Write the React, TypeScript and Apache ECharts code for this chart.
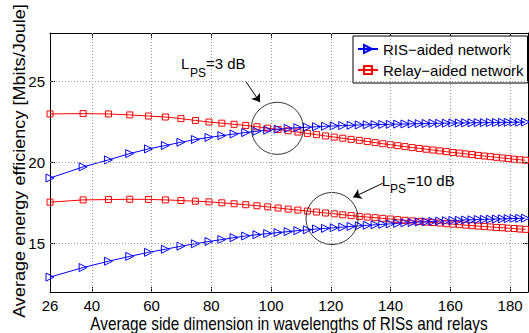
import { useEffect, useRef } from 'react';
import * as echarts from 'echarts';

const xValues = [
  26.0, 37.09, 45.56, 52.69, 58.96, 64.62, 69.83, 74.67, 79.22, 83.52,
  87.61, 91.52, 95.27, 98.87, 102.35, 105.72, 108.98, 112.14, 115.22, 118.22,
  121.14, 124.0, 126.79, 129.52, 132.2, 134.82, 137.39, 139.91, 142.39, 144.83,
  147.23, 149.59, 151.91, 154.19, 156.45, 158.67, 160.86, 163.02, 165.15, 167.26,
  169.34, 171.39, 173.42, 175.43, 177.42, 179.38, 181.32, 183.24, 185.14,
];

const ris3dB = [
  19.04, 19.73, 20.16, 20.55, 20.84, 21.05, 21.25, 21.42, 21.55, 21.66,
  21.76, 21.85, 21.93, 22.0, 22.06, 22.11, 22.15, 22.18, 22.21, 22.24,
  22.26, 22.28, 22.3, 22.32, 22.33, 22.34, 22.35, 22.36, 22.37, 22.38,
  22.39, 22.4, 22.41, 22.42, 22.42, 22.43, 22.44, 22.44, 22.45, 22.45,
  22.46, 22.46, 22.47, 22.47, 22.48, 22.48, 22.49, 22.49, 22.5,
];

const relay3dB = [
  23.0, 23.02, 23.0, 22.94, 22.87, 22.81, 22.71, 22.6, 22.5, 22.43,
  22.36, 22.29, 22.21, 22.12, 22.04, 21.96, 21.88, 21.8, 21.72, 21.64,
  21.57, 21.5, 21.43, 21.37, 21.3, 21.23, 21.16, 21.1, 21.04, 20.98,
  20.92, 20.87, 20.82, 20.77, 20.72, 20.67, 20.62, 20.58, 20.53, 20.49,
  20.44, 20.4, 20.36, 20.32, 20.28, 20.24, 20.2, 20.17, 20.14,
];

const ris10dB = [
  12.92, 13.51, 13.9, 14.2, 14.45, 14.64, 14.83, 14.98, 15.12, 15.24,
  15.36, 15.46, 15.54, 15.61, 15.67, 15.73, 15.79, 15.84, 15.89, 15.93,
  15.97, 16.01, 16.05, 16.09, 16.12, 16.15, 16.18, 16.21, 16.24, 16.27,
  16.29, 16.32, 16.34, 16.36, 16.38, 16.4, 16.42, 16.43, 16.45, 16.46,
  16.48, 16.49, 16.5, 16.51, 16.52, 16.53, 16.54, 16.55, 16.56,
];

const relay10dB = [
  17.55, 17.69, 17.71, 17.73, 17.72, 17.69, 17.65, 17.61, 17.57, 17.51,
  17.45, 17.39, 17.33, 17.26, 17.19, 17.12, 17.06, 17.0, 16.94, 16.88,
  16.83, 16.77, 16.72, 16.67, 16.63, 16.59, 16.55, 16.51, 16.47, 16.43,
  16.39, 16.36, 16.32, 16.29, 16.26, 16.22, 16.19, 16.16, 16.13, 16.1,
  16.07, 16.05, 16.02, 15.99, 15.97, 15.94, 15.92, 15.89, 15.87,
];

const xTicks = [26, 40, 60, 80, 100, 120, 140, 160, 180];
const yTicks = [15, 20, 25];
const gridX = [40, 60, 80, 100, 120, 140, 160, 180];
const gridY = [15, 20, 25];

const circleCenters = [
  [102.1, 22.11],
  [120.4, 16.54],
];
const arrows = [
  [[91.6, 24.99], [96.3, 23.72]],
  [[137.4, 18.72], [127.5, 17.85]],
];

const RIS_NAME = 'RIS\u2212aided network';
const RELAY_NAME = 'Relay\u2212aided network';
const FONT = 'Liberation Sans';
const BLUE = '#0000ff';
const RED = '#ff0000';
const TRI = 'path://M0,0L10,5L0,10Z';

const zip = (ys: number[]) => xValues.map((x, i) => [x, ys[i]]);

export default function App() {
  const ref = useRef<HTMLDivElement>(null);
  useEffect(() => {
    document.body.style.margin = '0';
    const chart = echarts.init(ref.current!, null, { renderer: 'svg' });

    const risSeries = (data: number[]) => ({
      type: 'line',
      name: RIS_NAME,
      data: zip(data),
      symbol: TRI,
      symbolSize: 8,
      showAllSymbol: true,
      lineStyle: { color: BLUE, width: 1 },
      itemStyle: { color: 'rgba(0,0,0,0)', borderColor: BLUE, borderWidth: 1 },
      emphasis: { disabled: true },
      z: 3,
    });
    const relaySeries = (data: number[]) => ({
      type: 'line',
      name: RELAY_NAME,
      data: zip(data),
      symbol: 'rect',
      symbolSize: 6,
      showAllSymbol: true,
      lineStyle: { color: RED, width: 1 },
      itemStyle: { color: 'rgba(0,0,0,0)', borderColor: RED, borderWidth: 1 },
      emphasis: { disabled: true },
      z: 3,
    });

    const axisCommon = {
      type: 'value',
      axisLine: { show: true, onZero: false, lineStyle: { color: '#000', width: 1 } },
      splitLine: { show: false },
    };

    const option: any = {
      animation: false,
      grid: { left: 50, right: 1, top: 33, bottom: 41, containLabel: false },
      xAxis: [
        {
          ...axisCommon,
          min: 26,
          max: 186,
          position: 'bottom',
          axisTick: { show: true, inside: true, length: 5, customValues: xTicks, lineStyle: { color: '#000' } },
          axisLabel: { customValues: xTicks, color: '#000', fontSize: 15, fontFamily: FONT, margin: 6 },
        },
        {
          ...axisCommon,
          min: 26,
          max: 186,
          position: 'top',
          axisTick: { show: true, inside: true, length: 5, customValues: xTicks, lineStyle: { color: '#000' } },
          axisLabel: { show: false },
        },
      ],
      yAxis: [
        {
          ...axisCommon,
          min: 12,
          max: 28,
          position: 'left',
          axisTick: { show: true, inside: true, length: 5, customValues: yTicks, lineStyle: { color: '#000' } },
          axisLabel: { customValues: yTicks, color: '#000', fontSize: 15, fontFamily: FONT, margin: 5 },
        },
        {
          ...axisCommon,
          min: 12,
          max: 28,
          position: 'right',
          axisTick: { show: true, inside: true, length: 5, customValues: yTicks, lineStyle: { color: '#000' } },
          axisLabel: { show: false },
        },
      ],
      legend: {
        data: [RIS_NAME, RELAY_NAME],
        orient: 'vertical',
        left: 353,
        top: 36,
        padding: [4.5, 4, 4.5, 4],
        itemGap: 4,
        itemWidth: 20,
        itemHeight: 10,
        backgroundColor: '#fff',
        borderColor: '#000',
        borderWidth: 1,
        borderRadius: 0,
        selectedMode: false,
        textStyle: { color: '#000', fontSize: 15, fontFamily: FONT, lineHeight: 17 },
      },
      series: [
        {
          type: 'line',
          name: 'grid',
          data: [[26, 12]],
          symbol: 'none',
          silent: true,
          z: 1,
          markLine: {
            silent: true,
            symbol: 'none',
            label: { show: false },
            emphasis: { disabled: true },
            lineStyle: { color: '#9a9a9a', type: [1, 2], width: 1 },
            data: [...gridX.map((v) => ({ xAxis: v })), ...gridY.map((v) => ({ yAxis: v }))],
          },
        },
        relaySeries(relay3dB),
        risSeries(ris3dB),
        relaySeries(relay10dB),
        risSeries(ris10dB),
        {
          type: 'scatter',
          name: 'circles',
          data: circleCenters,
          symbol: 'circle',
          symbolSize: 52,
          silent: true,
          itemStyle: { color: 'rgba(0,0,0,0)', borderColor: '#000', borderWidth: 1 },
          emphasis: { disabled: true },
          z: 4,
          markLine: {
            silent: true,
            symbol: ['none', 'arrow'],
            symbolSize: 8,
            label: { show: false },
            emphasis: { disabled: true },
            lineStyle: { color: '#000', type: 'solid', width: 1 },
            data: arrows.map((a) => [{ coord: a[0] }, { coord: a[1] }]),
          },
        },
      ],
      graphic: [
        {
          type: 'text',
          x: 20,
          y: 161,
          rotation: Math.PI / 2,
          scaleX: 1.13,
          style: {
            text: 'Average energy efficiency [Mbits/Joule]',
            fontFamily: FONT,
            fontSize: 16,
            fill: '#000',
            align: 'center',
            verticalAlign: 'middle',
          },
        },
        {
          type: 'text',
          x: 289,
          y: 323.5,
          scaleY: 1.15,
          style: {
            text: 'Average side dimension in wavelengths of RISs and relays',
            fontFamily: FONT,
            fontSize: 15.3,
            fill: '#000',
            align: 'center',
            verticalAlign: 'middle',
          },
        },
        { type: 'text', x: 181, y: 63.3, style: { text: 'L', fontFamily: FONT, fontSize: 15, fill: '#000', align: 'left', verticalAlign: 'middle' } },
        { type: 'text', x: 190, y: 72.5, style: { text: 'PS', fontFamily: FONT, fontSize: 12, fill: '#000', align: 'left', verticalAlign: 'middle' } },
        { type: 'text', x: 206, y: 63.3, style: { text: '=3 dB', fontFamily: FONT, fontSize: 15, fill: '#000', align: 'left', verticalAlign: 'middle' } },
        { type: 'text', x: 381.7, y: 180, style: { text: 'L', fontFamily: FONT, fontSize: 15, fill: '#000', align: 'left', verticalAlign: 'middle' } },
        { type: 'text', x: 390, y: 189, style: { text: 'PS', fontFamily: FONT, fontSize: 12, fill: '#000', align: 'left', verticalAlign: 'middle' } },
        { type: 'text', x: 406.7, y: 180, style: { text: '=10 dB', fontFamily: FONT, fontSize: 15, fill: '#000', align: 'left', verticalAlign: 'middle' } },
      ],
    };

    chart.setOption(option);
    return () => chart.dispose();
  }, []);
  return <div ref={ref} style={{ width: 529, height: 333 }} />;
}
